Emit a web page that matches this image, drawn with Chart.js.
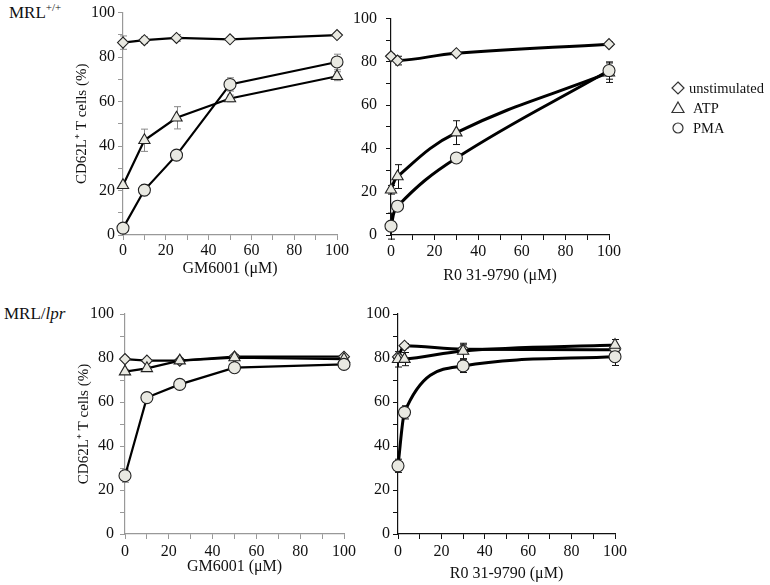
<!DOCTYPE html>
<html>
<head>
<meta charset="utf-8">
<script src="https://cdn.jsdelivr.net/npm/chart.js@4/dist/chart.umd.min.js"></script>
<style>
  body { margin: 0; background: #fff; }
  #wrap { position: relative; width: 770px; height: 585px; background: #fff; font-family: "Liberation Serif", serif; color: #111; }
  canvas { position: absolute; }
  .lab { position: absolute; font-size: 17px; }
  .lab sup { font-size: 11px; }
</style>
</head>
<body>
<div id="wrap">
  <div class="lab" style="left:9px;top:1px">MRL<sup>+/+</sup></div>
  <div class="lab" style="left:4px;top:304px">MRL/<i>lpr</i></div>
  <canvas id="c1" width="380" height="290" style="left:0;top:0"></canvas>
  <canvas id="c2" width="440" height="290" style="left:330px;top:0"></canvas>
  <canvas id="c3" width="380" height="295" style="left:0;top:290px"></canvas>
  <canvas id="c4" width="300" height="295" style="left:330px;top:290px"></canvas>
</div>
<script>
// doses
const gmDose = [0, 10, 25, 50, 100];
const roDose = [0, 3, 30, 100];

// MRL+/+ , GM6001
const wtGmUnstim = [86.5, 87.6, 88.6, 88, 89.9];
const wtGmAtp = [22.4, 42.6, 52.7, 61.4, 71.4];
const wtGmPma = [3.1, 20.2, 35.9, 67.7, 77.8];
const wtGmUnstimErr = [3, 1.5, 1.5, 1, 0.5];
const wtGmAtpErr = [1, 5, 5, 1.5, 2];
const wtGmPmaErr = [1, 2.5, 1, 3, 3.5];

// MRL+/+ , R0 31-9790
const wtRoUnstim = [82.6, 80.6, 84, 88.2];
const wtRoAtp = [20.9, 27, 47.3, 75];
const wtRoPma = [4.1, 13.3, 35.6, 76];
const wtRoUnstimErr = [1, 2, 1, 1];
const wtRoAtpErr = [2, 5.5, 5.5, 4.5];
const wtRoPmaErr = [6, 2, 2, 4];

// MRL/lpr , GM6001
const lprGmUnstim = [79.5, 78.8, 78.8, 80.6, 80.6];
const lprGmAtp = [73.8, 75.3, 78.8, 80.2, 79.5];
const lprGmPma = [26.5, 62, 68, 75.6, 77.1];
const lprGmUnstimErr = [1, 1, 1, 1, 1];
const lprGmAtpErr = [1, 1, 1, 1, 1];
const lprGmPmaErr = [3, 1.5, 1, 1, 1];

// MRL/lpr , R0 31-9790
const lprRoUnstim = [80.5, 85.6, 84, 83.8];
const lprRoAtp = [79.4, 79.5, 83.2, 85.9];
const lprRoPma = [31, 55.3, 76.4, 80.6];
const lprRoUnstimErr = [1, 1, 2, 1];
const lprRoAtpErr = [3.5, 3, 3.5, 2.5];
const lprRoPmaErr = [3, 3, 3, 4];

const seriesNames = ["unstimulated", "ATP", "PMA"];
const seriesStyles = ["rectRot", "triangle", "circle"];
const seriesRadius = [5.5, 6.5, 6];

const FONT = "'Liberation Serif', 'Times New Roman', serif";
const fill = "#e9e9e2";

const errorBars = {
  id: "errorBars",
  beforeDatasetsDraw(chart, args, opts) {
    const ctx = chart.ctx;
    const xs = chart.scales.x, ys = chart.scales.y;
    ctx.save();
    ctx.strokeStyle = opts.color || "#000";
    ctx.lineWidth = 1;
    chart.data.datasets.forEach(ds => {
      if (!ds.errors) return;
      ds.data.forEach((p, i) => {
        const e = ds.errors[i];
        if (!e) return;
        const px = Math.round(xs.getPixelForValue(p.x)) + 0.5;
        const t = ys.getPixelForValue(p.y + e);
        const b = ys.getPixelForValue(p.y - e);
        ctx.beginPath();
        ctx.moveTo(px, t); ctx.lineTo(px, b);
        ctx.moveTo(px - 3.5, t); ctx.lineTo(px + 3.5, t);
        ctx.moveTo(px - 3.5, b); ctx.lineTo(px + 3.5, b);
        ctx.stroke();
      });
    });
    ctx.restore();
  }
};

const legendBox = {
  id: "legendBox",
  afterDraw(chart, args, opts) {
    if (!opts.show) return;
    const ctx = chart.ctx;
    ctx.save();
    ctx.font = "14.5px " + FONT;
    ctx.textBaseline = "middle";
    ctx.strokeStyle = "#333";
    ctx.lineWidth = 1.2;
    seriesNames.forEach((name, i) => {
      const x = opts.x, y = opts.y + i * 20;
      ctx.beginPath();
      if (i === 0) {
        ctx.moveTo(x, y - 6); ctx.lineTo(x + 6, y); ctx.lineTo(x, y + 6); ctx.lineTo(x - 6, y);
      } else if (i === 1) {
        ctx.moveTo(x, y - 6); ctx.lineTo(x + 6, y + 4.5); ctx.lineTo(x - 6, y + 4.5);
      } else {
        ctx.arc(x, y, 5, 0, Math.PI * 2);
      }
      ctx.closePath();
      ctx.fillStyle = "#fafafa";
      ctx.fill();
      ctx.stroke();
      ctx.fillStyle = "#111";
      ctx.fillText(name, x + (i === 0 ? 11 : 15), y + 1);
    });
    ctx.restore();
  }
};

function makeSets(dose, values, errors, lineWidth, curve) {
  return values.map((vals, k) => ({
    label: seriesNames[k],
    data: dose.map((d, i) => ({ x: d, y: vals[i] })),
    errors: errors[k],
    borderColor: "#000",
    borderWidth: lineWidth,
    pointStyle: seriesStyles[k],
    pointRadius: seriesRadius[k],
    pointBackgroundColor: fill,
    pointBorderColor: "#222",
    pointBorderWidth: 1.1,
    cubicInterpolationMode: curve === "monotone" ? "monotone" : "default",
    tension: typeof curve === "number" ? curve : 0,
    clip: false,
    order: 3 - k
  }));
}

function makeChart(id, p) {
  const tickFont = { family: FONT, size: 16 };
  const evenOnly = v => (v % 20 === 0 ? v : "");
  return new Chart(document.getElementById(id), {
    type: "line",
    data: { datasets: p.datasets },
    options: {
      responsive: false,
      animation: false,
      events: [],
      layout: { padding: p.padding },
      plugins: {
        legend: { display: false },
        tooltip: { enabled: false },
        errorBars: { color: p.errColor },
        legendBox: p.legend || { show: false }
      },
      scales: {
        x: {
          type: "linear", min: 0, max: 100,
          ticks: { stepSize: 10, autoSkip: false, maxRotation: 0, callback: evenOnly, font: tickFont, color: "#111", padding: p.xPad },
          grid: { drawOnChartArea: false, drawTicks: true, tickLength: 5, color: p.axisColor },
          border: { color: p.axisColor, width: 1.2 },
          title: { display: true, text: p.xTitle, font: tickFont, color: "#111", padding: { top: 0, bottom: p.xTitlePad } },
          afterFit: s => { s.height = p.xHeight; }
        },
        y: {
          min: 0, max: 100,
          ticks: { stepSize: 10, autoSkip: false, callback: evenOnly, font: tickFont, color: "#111", padding: p.yPad },
          grid: { drawOnChartArea: false, drawTicks: true, tickLength: 5, color: p.axisColor },
          border: { color: p.axisColor, width: 1.2 },
          title: { display: !!p.yTitle, text: p.yTitle || "", font: { family: FONT, size: 15 }, color: "#111", padding: { top: 3, bottom: 0 } },
          afterFit: s => { s.width = p.yWidth; }
        }
      }
    },
    plugins: [errorBars, legendBox]
  });
}

makeChart("c1", {
  datasets: makeSets(gmDose, [wtGmUnstim, wtGmAtp, wtGmPma], [wtGmUnstimErr, wtGmAtpErr, wtGmPmaErr], 2.2, 0),
  padding: { left: 70, top: 12, right: 43, bottom: 0 },
  yWidth: 53, xHeight: 55, xPad: 1, yPad: 3, xTitlePad: 12,
  axisColor: "#999", errColor: "#888",
  xTitle: "GM6001 (\u03bcM)", yTitle: "CD62L\u207a T cells (%)"
});

makeChart("c2", {
  datasets: makeSets(roDose, [wtRoUnstim, wtRoAtp, wtRoPma], [wtRoUnstimErr, wtRoAtpErr, wtRoPmaErr], 3, 0.4),
  padding: { left: 0, top: 15, right: 161, bottom: 0 },
  yWidth: 61, xHeight: 55, xPad: 2, yPad: 9, xTitlePad: 5,
  axisColor: "#111", errColor: "#111",
  xTitle: "R0 31-9790 (\u03bcM)",
  legend: { show: true, x: 348, y: 88 }
});

makeChart("c3", {
  datasets: makeSets(gmDose, [lprGmUnstim, lprGmAtp, lprGmPma], [lprGmUnstimErr, lprGmAtpErr, lprGmPmaErr], 2.2, 0),
  padding: { left: 72, top: 24, right: 36, bottom: 0 },
  yWidth: 53, xHeight: 51, xPad: 3, yPad: 6, xTitlePad: 9,
  axisColor: "#999", errColor: "#888",
  xTitle: "GM6001 (\u03bcM)", yTitle: "CD62L\u207a T cells (%)"
});

makeChart("c4", {
  datasets: makeSets(roDose, [lprRoUnstim, lprRoAtp, lprRoPma], [lprRoUnstimErr, lprRoAtpErr, lprRoPmaErr], 3, "monotone"),
  padding: { left: 0, top: 24, right: 10, bottom: 0 },
  yWidth: 68, xHeight: 51, xPad: 3, yPad: 3, xTitlePad: 2,
  axisColor: "#111", errColor: "#111",
  xTitle: "R0 31-9790 (\u03bcM)"
});
</script>
</body>
</html>
